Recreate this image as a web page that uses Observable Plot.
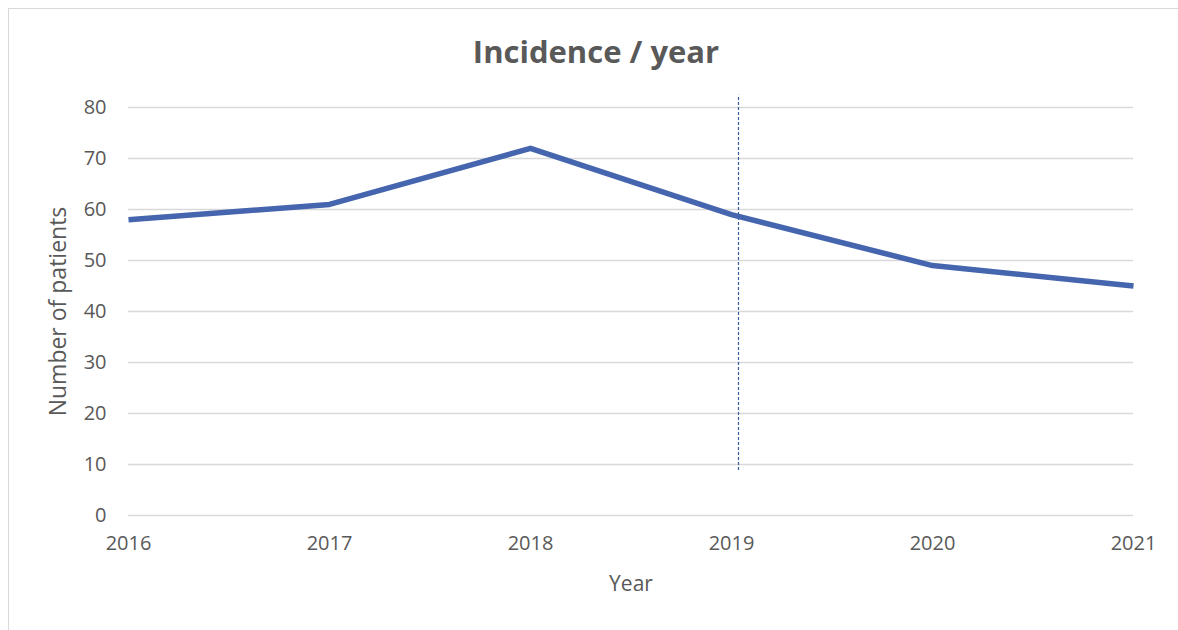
<!DOCTYPE html>
<html>
<head>
<meta charset="utf-8">
<script src="https://cdn.jsdelivr.net/npm/d3@7"></script>
<script src="https://cdn.jsdelivr.net/npm/@observablehq/plot@0.6"></script>
<style>
  html, body { margin: 0; padding: 0; background: #fff; }
  #wrap { position: relative; width: 1178px; height: 630px; overflow: hidden; font-family: "Open Sans", sans-serif; }
  #frame { position: absolute; left: 8px; top: 8px; width: 1400px; height: 800px;
           border-left: 1.5px solid #d9d9d9; border-top: 1.5px solid #d9d9d9; }
  #title { position: absolute; left: 596px; top: 33px; transform: translateX(-50%);
           font-family: "Open Sans", sans-serif; font-weight: 700; font-size: 31px;
           color: #595959; white-space: nowrap; line-height: 1.2; }
  #chart { position: absolute; left: 0; top: 0; }
</style>
</head>
<body>
<div id="wrap">
  <div id="frame"></div>
  <div id="chart"></div>
  <div id="title">Incidence / year</div>
</div>
<script>
// Annual incidence
const years = [2016, 2017, 2018, 2019, 2020, 2021];
const patients = [58, 61, 72, 59, 49, 45];
const yTicks = [0, 10, 20, 30, 40, 50, 60, 70, 80];

// Dashed marker at 2019 and its vertical extent (in patient units)
const markerYear = [2019];
const markerFrom = [8.8];
const markerTo = [82.4];

const data = years.map((year, i) => ({year, value: patients[i]}));
const marker = markerYear.map((year, i) => ({year, y1: markerFrom[i], y2: markerTo[i]}));

const ink = "#595959";

const chart = Plot.plot({
  width: 1178,
  height: 630,
  marginLeft: 128,
  marginRight: 45,
  marginTop: 107,
  marginBottom: 115,
  style: {fontFamily: "'Open Sans', sans-serif", fontSize: "20px", color: ink, background: "transparent"},
  x: {domain: [2016, 2021], ticks: years, tickFormat: d => String(d), tickSize: 0, tickPadding: 24, label: null},
  y: {domain: [0, 80], ticks: yTicks, tickSize: 0, tickPadding: 22, label: null},
  marks: [
    Plot.gridY(yTicks, {stroke: "#d9d9d9", strokeOpacity: 1, strokeWidth: 1.5}),
    Plot.axisX({ticks: years, tickFormat: d => String(d), tickSize: 0, tickPadding: 20, fill: ink, fontSize: 20}),
    Plot.axisY({ticks: yTicks, tickSize: 0, tickPadding: 22, fill: ink, fontSize: 20}),
    Plot.ruleX(marker, {x: "year", y1: "y1", y2: "y2", dx: 7, stroke: "#3A5A9E", strokeWidth: 1.2, strokeDasharray: "3,2"}),
    Plot.line(data, {x: "year", y: "value", stroke: "#4565AE", strokeWidth: 5.5, strokeLinejoin: "round", strokeLinecap: "butt"}),
    Plot.text(["Number of patients"], {frameAnchor: "left", dx: -70, rotate: -90, fill: ink, fontSize: 23, textAnchor: "middle", lineAnchor: "middle"}),
    Plot.text(["Year"], {frameAnchor: "bottom", dy: 69, fill: ink, fontSize: 21, textAnchor: "middle", lineAnchor: "middle"})
  ]
});

document.getElementById("chart").appendChild(chart);
</script>
</body>
</html>
